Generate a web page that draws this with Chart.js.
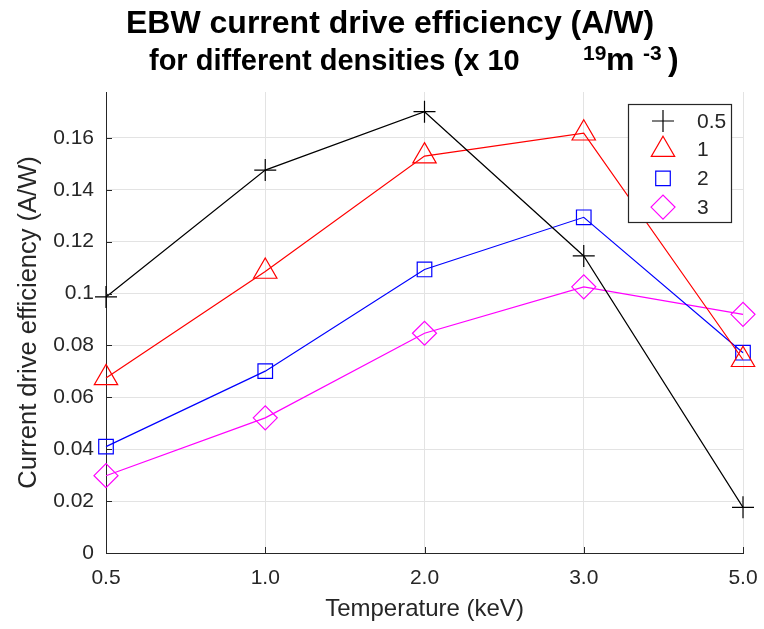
<!DOCTYPE html>
<html><head><meta charset="utf-8">
<script src="https://cdn.jsdelivr.net/npm/chart.js@4"></script>
<style>html,body{margin:0;padding:0;background:#fff}#wrap{width:764px;height:629px}</style>
</head><body><div id="wrap"><canvas id="c" width="764" height="629"></canvas></div>
<script>
const temperatures = ['0.5', '1.0', '2.0', '3.0', '5.0'];
const seriesNames = ['0.5', '1', '2', '3'];
const eff05 = [0.0987, 0.1476, 0.1701, 0.1145, 0.0176];
const eff1 = [0.0675, 0.1085, 0.1530, 0.1618, 0.0745];
const eff2 = [0.0410, 0.0701, 0.1093, 0.1294, 0.0772];
const eff3 = [0.0298, 0.0521, 0.0847, 0.1026, 0.0920];
const yTickValues = [0, 0.02, 0.04, 0.06, 0.08, 0.1, 0.12, 0.14, 0.16];
const yTickLabels = ['0', '0.02', '0.04', '0.06', '0.08', '0.1', '0.12', '0.14', '0.16'];

const FONT = "'Liberation Sans', Arial, Helvetica, sans-serif";
const AX = '#262626';

const styles = [
  {color: '#000000', pointStyle: 'cross', radius: 11},
  {color: '#ff0000', pointStyle: 'triangle', radius: 13.5},
  {color: '#0000ff', pointStyle: 'rect', radius: 10.3},
  {color: '#ff00ff', pointStyle: 'rectRot', radius: 12}
];
const values = [eff05, eff1, eff2, eff3];

const datasets = seriesNames.map((n, i) => ({
  label: n,
  data: values[i],
  borderColor: styles[i].color,
  backgroundColor: 'rgba(0,0,0,0)',
  pointBorderColor: styles[i].color,
  pointBackgroundColor: 'rgba(0,0,0,0)',
  pointStyle: styles[i].pointStyle,
  pointRadius: styles[i].radius,
  pointHoverRadius: styles[i].radius,
  pointBorderWidth: 1.2,
  borderWidth: 1.2,
  tension: 0,
  fill: false
}));

const decor = {
  id: 'decor',
  afterDraw(chart) {
    const ctx = chart.ctx;
    const x = chart.scales.x, y = chart.scales.y;
    const ca = chart.chartArea;
    ctx.save();
    // inward tick marks
    ctx.strokeStyle = AX; ctx.lineWidth = 1;
    ctx.beginPath();
    yTickValues.forEach(v => {
      const py = Math.round(y.getPixelForValue(v)) + 0.5;
      ctx.moveTo(ca.left, py); ctx.lineTo(ca.left + 6, py);
    });
    temperatures.forEach((t, i) => {
      const px = Math.round(x.getPixelForValue(i)) + 0.5;
      ctx.moveTo(px, ca.bottom); ctx.lineTo(px, ca.bottom - 6);
    });
    ctx.stroke();

    // title
    ctx.fillStyle = '#000';
    ctx.textBaseline = 'alphabetic';
    ctx.textAlign = 'left';
    ctx.font = "bold 32px " + FONT;
    ctx.fillText('EBW current drive efficiency (A/W)', 126, 33);
    ctx.font = "bold 29px " + FONT;
    ctx.fillText('for different densities (x 10', 149, 70);
    ctx.font = "bold 21px " + FONT; ctx.fillText('19', 583, 60);
    ctx.font = "bold 32px " + FONT; ctx.fillText('m', 606, 70);
    ctx.font = "bold 21px " + FONT; ctx.fillText('-3', 643, 60);
    ctx.font = "bold 32px " + FONT; ctx.fillText(')', 668, 70);

    // legend
    const lx = 628, ly = 104, lw = 103, lh = 118;
    ctx.fillStyle = '#fff';
    ctx.fillRect(lx, ly, lw, lh);
    ctx.strokeStyle = AX; ctx.lineWidth = 1.2;
    ctx.strokeRect(lx + 0.5, ly + 0.5, lw, lh);
    ctx.font = "21px " + FONT;
    ctx.textBaseline = 'middle';
    chart.data.datasets.forEach((ds, i) => {
      const ry = 121 + i * 28.7;
      ctx.strokeStyle = ds.pointBorderColor;
      ctx.fillStyle = 'rgba(0,0,0,0)';
      ctx.lineWidth = 1.2;
      Chart.helpers.drawPoint(ctx, {pointStyle: ds.pointStyle, rotation: 0, radius: ds.pointRadius, borderWidth: 1.2}, 663, ry);
      ctx.fillStyle = AX;
      ctx.fillText(ds.label, 697, ry + 1);
    });
    ctx.restore();
  }
};

new Chart(document.getElementById('c'), {
  type: 'line',
  data: {labels: temperatures, datasets},
  plugins: [decor],
  options: {
    responsive: false,
    animation: false,
    devicePixelRatio: 1,
    layout: {padding: {top: 92, right: 21, left: 0, bottom: 0}},
    plugins: {legend: {display: false}, title: {display: false}, tooltip: {enabled: false}},
    scales: {
      x: {
        type: 'category',
        offset: false,
        grid: {color: '#e3e3e3', drawTicks: false, tickLength: 0},
        border: {color: AX, width: 1},
        ticks: {color: AX, font: {family: FONT, size: 21}, padding: 13, maxRotation: 0, autoSkip: false},
        title: {display: true, text: 'Temperature (keV)', color: AX, font: {family: FONT, size: 24}, padding: {top: 0, bottom: 5}},
        afterFit: s => { s.height = 76; s.paddingLeft = 0; s.paddingRight = 0; }
      },
      y: {
        min: 0, max: 0.1777,
        afterBuildTicks: s => { s.ticks = yTickValues.map(v => ({value: v})); },
        grid: {color: '#e3e3e3', drawTicks: false, tickLength: 0},
        border: {color: AX, width: 1},
        ticks: {color: AX, font: {family: FONT, size: 21}, padding: 12, callback: (v, i) => yTickLabels[i]},
        title: {display: true, text: 'Current drive efficiency (A/W)', color: AX, font: {family: FONT, size: 25.5}, padding: {top: 14, bottom: 0}},
        afterFit: s => { s.width = 106; s.paddingTop = 0; s.paddingBottom = 0; }
      }
    }
  }
});
</script>
</body></html>
